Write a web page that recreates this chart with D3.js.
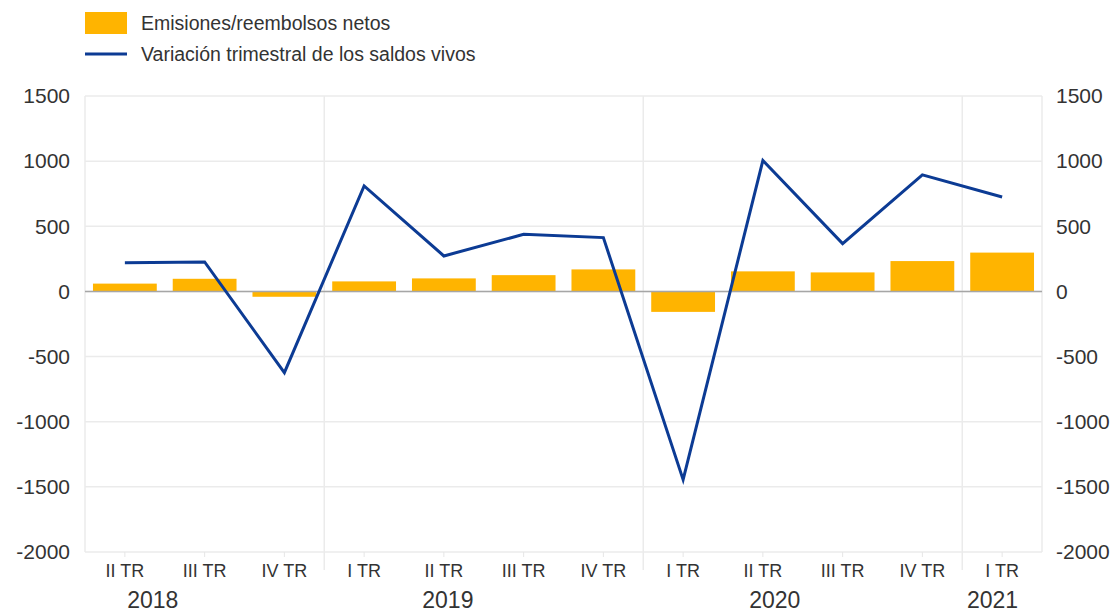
<!DOCTYPE html>
<html>
<head>
<meta charset="utf-8">
<script src="https://cdn.jsdelivr.net/npm/d3@7"></script>
<style>
    body { margin: 0; background: #fff; }
    text { font-family: "Liberation Sans", Arial, sans-serif; fill: #333; }
</style>
</head>
<body>
<svg id="chart" width="1115" height="612"></svg>
<script>
// quarters shown on the x axis
let quarters = ["II TR", "III TR", "IV TR", "I TR", "II TR", "III TR", "IV TR", "I TR", "II TR", "III TR", "IV TR", "I TR"];
let years = ["2018", "2018", "2018", "2019", "2019", "2019", "2019", "2020", "2020", "2020", "2020", "2021"];
// net issues / redemptions (bars)
let netIssues = [60, 97, -41, 77, 100, 125, 169, -157, 154, 146, 233, 298];
// quarterly change in outstanding amounts (line)
let quarterlyChange = [221, 226, -623, 810, 272, 438, 413, -1445, 1005, 367, 895, 725];
let yTicks = [1500, 1000, 500, 0, -500, -1000, -1500, -2000];
let legendLabels = ["Emisiones/reembolsos netos", "Variación trimestral de los saldos vivos"];

let svg = d3.select("#chart");
let plotLeft = 85, plotRight = 1042, plotTop = 96, plotBottom = 552;

let x = d3.scaleBand()
    .domain(d3.range(quarters.length))
    .range([plotLeft, plotRight])
    .paddingInner(0.2)
    .paddingOuter(0.1);

let y = d3.scaleLinear()
    .domain([-2000, 1500])
    .range([plotBottom, plotTop]);

//grid
let gridG = svg.append("g").attr("id", "gridG");
gridG.selectAll("line.h")
    .data(yTicks)
    .enter()
    .append("line")
    .attr("class", "h")
    .attr("x1", plotLeft)
    .attr("x2", plotRight)
    .attr("y1", d => y(d))
    .attr("y2", d => y(d))
    .attr("stroke", "#ebebeb")
    .attr("stroke-width", 1.5);

// year separators (where the year changes)
let breaks = [];
for (let i = 1; i < years.length; i++) {
    if (years[i] !== years[i - 1]) breaks.push(i);
}
let step = x.step();
gridG.selectAll("line.v")
    .data(breaks)
    .enter()
    .append("line")
    .attr("class", "v")
    .attr("x1", d => x(d) - step * x.paddingInner() / 2)
    .attr("x2", d => x(d) - step * x.paddingInner() / 2)
    .attr("y1", plotTop)
    .attr("y2", plotBottom + 18)
    .attr("stroke", "#ebebeb")
    .attr("stroke-width", 1.5);

// plot borders left/right
gridG.selectAll("line.b")
    .data([plotLeft, plotRight])
    .enter()
    .append("line")
    .attr("class", "b")
    .attr("x1", d => d)
    .attr("x2", d => d)
    .attr("y1", plotTop)
    .attr("y2", plotBottom)
    .attr("stroke", "#ebebeb")
    .attr("stroke-width", 1.5);

// small ticks at category centres
gridG.selectAll("line.t")
    .data(quarters)
    .enter()
    .append("line")
    .attr("class", "t")
    .attr("x1", (d, i) => x(i) + x.bandwidth() / 2)
    .attr("x2", (d, i) => x(i) + x.bandwidth() / 2)
    .attr("y1", plotBottom)
    .attr("y2", plotBottom + 5)
    .attr("stroke", "#e6e6e6")
    .attr("stroke-width", 1);

//bars
svg.append("g").attr("id", "barsG")
    .selectAll("rect")
    .data(netIssues)
    .enter()
    .append("rect")
    .attr("x", (d, i) => x(i))
    .attr("width", x.bandwidth())
    .attr("y", d => y(Math.max(0, d)))
    .attr("height", d => Math.abs(y(d) - y(0)))
    .attr("fill", "#ffb400");

// zero line
svg.append("line")
    .attr("x1", plotLeft)
    .attr("x2", plotRight)
    .attr("y1", y(0))
    .attr("y2", y(0))
    .attr("stroke", "#a6a6a6")
    .attr("stroke-width", 1.5);

//line
let line = d3.line()
    .x((d, i) => x(i) + x.bandwidth() / 2)
    .y(d => y(d));
svg.append("path")
    .datum(quarterlyChange)
    .attr("d", line)
    .attr("fill", "none")
    .attr("stroke", "#0c3b94")
    .attr("stroke-width", 3)
    .attr("stroke-linejoin", "miter");

//y axis labels (plain numbers, hyphen minus)
let fmt = d => String(d);
let yAxisL = d3.axisLeft(y).tickValues(yTicks).tickFormat(fmt).tickSize(0).tickPadding(15);
let yAxisR = d3.axisRight(y).tickValues(yTicks).tickFormat(fmt).tickSize(0).tickPadding(14);
[svg.append("g").attr("transform", "translate(" + plotLeft + ",0)").call(yAxisL),
 svg.append("g").attr("transform", "translate(" + plotRight + ",0)").call(yAxisR)].forEach(g => {
    g.select(".domain").remove();
    g.selectAll("text")
        .style("font-size", "21px")
        .style("font-family", "'Liberation Sans', Arial, sans-serif")
        .attr("fill", "#333");
});

//x labels
let xAxis = d3.axisBottom(x).tickFormat(i => quarters[i]).tickSize(0).tickPadding(12);
let xg = svg.append("g").attr("transform", "translate(0," + plotBottom + ")").call(xAxis);
xg.select(".domain").remove();
xg.selectAll("text")
    .style("font-size", "18px")
    .style("font-family", "'Liberation Sans', Arial, sans-serif")
    .attr("fill", "#333");

// year labels, placed under the group (offset)
let yearNames = Array.from(new Set(years));
let yearShift = [-0.65, -0.45, -0.35, -0.12];
svg.append("g").selectAll("text")
    .data(yearNames)
    .enter()
    .append("text")
    .attr("x", (d, k) => {
        let idx = years.map((v, i) => v === d ? i : -1).filter(i => i >= 0);
        let mid = (idx[0] + idx[idx.length - 1]) / 2;
        return x(0) + x.bandwidth() / 2 + (mid + yearShift[k]) * step;
    })
    .attr("y", 608)
    .attr("text-anchor", "middle")
    .style("font-size", "23px")
    .text(d => d);

//legend
let legend = svg.append("g").attr("id", "legendG");
legend.append("rect")
    .attr("x", 85).attr("y", 12)
    .attr("width", 42).attr("height", 22)
    .attr("fill", "#ffb400");
legend.append("line")
    .attr("x1", 85).attr("x2", 127)
    .attr("y1", 54).attr("y2", 54)
    .attr("stroke", "#0c3b94")
    .attr("stroke-width", 3);
legend.selectAll("text")
    .data(legendLabels)
    .enter()
    .append("text")
    .attr("x", 141)
    .attr("y", (d, i) => 30 + i * 31)
    .style("font-size", "19.5px")
    .text(d => d);
</script>
</body>
</html>
